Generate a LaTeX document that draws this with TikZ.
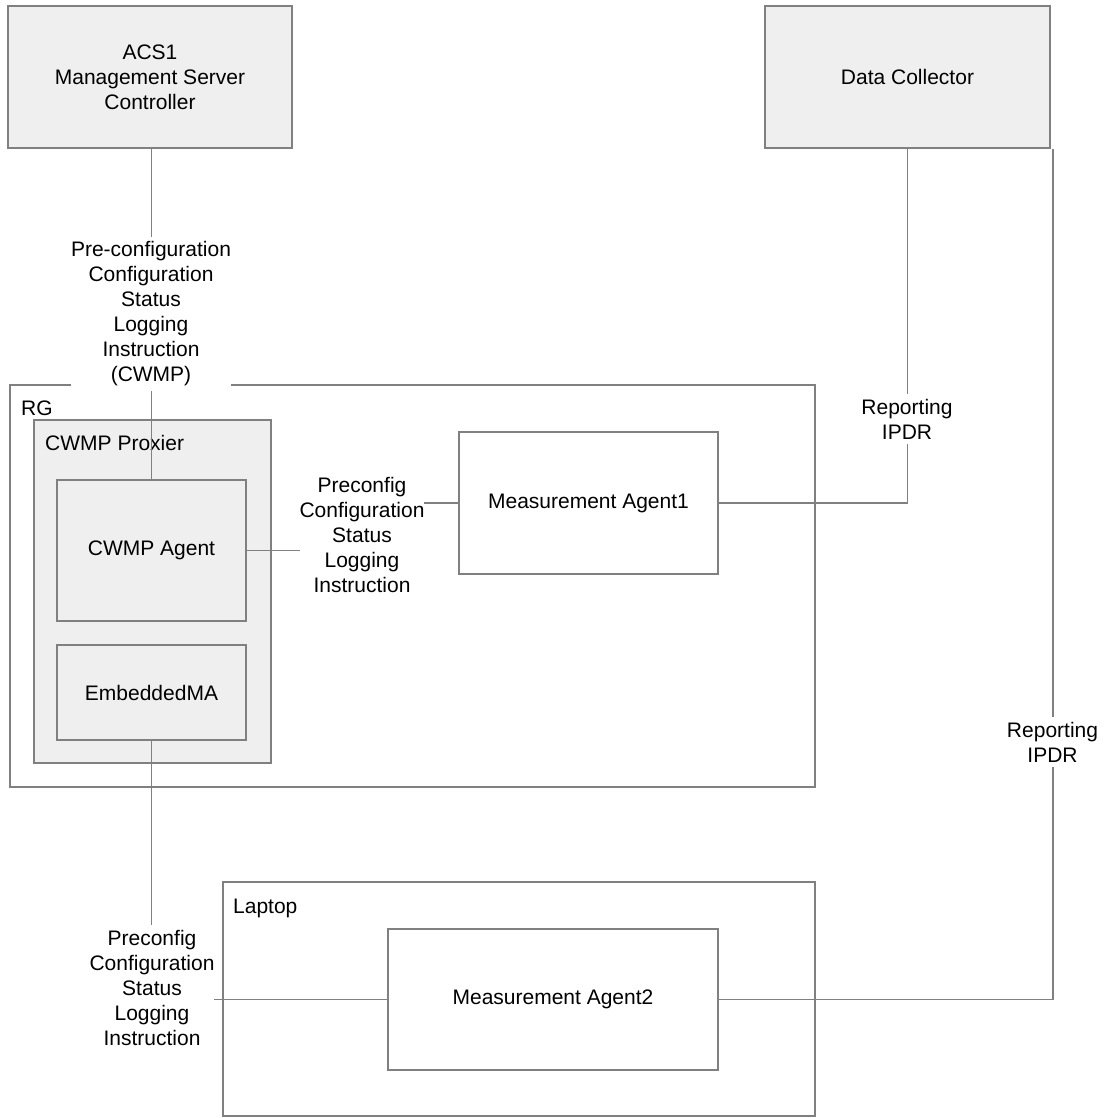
\documentclass[tikz,border=0pt]{standalone}
\usepackage{fontspec}
\setmainfont{Liberation Sans}
\usepackage{xcolor}
\definecolor{linegray}{RGB}{128,128,128}
\definecolor{boxgray}{RGB}{239,239,239}

\newcommand{\diagfont}{\fontsize{21}{25}\selectfont}

\tikzset{
  graybox/.style={draw=linegray, line width=1.2pt, fill=boxgray, inner sep=0pt, align=center, font=\diagfont},
  whitebox/.style={draw=linegray, line width=1.2pt, fill=white, inner sep=0pt, align=center, font=\diagfont},
  boxtitle/.style={anchor=base west, inner sep=0pt, font=\diagfont},
  link/.style={draw=linegray, line width=1.2pt},
  msg/.style={fill=white, align=center, inner xsep=0pt, inner ysep=5pt, font=\diagfont}
}

\begin{document}
\begin{tikzpicture}[x=1pt, y=-1pt]

\useasboundingbox (0,0) rectangle (1104,1118);

% Outer boxes
\node[whitebox, minimum width=805pt, minimum height=402pt] (rg) at (412.5,586) {};
\node[boxtitle] (rglab) at (21,415) {RG};
\node[graybox, minimum width=237pt, minimum height=343pt] (proxier) at (152.5,591.5) {};
\node[boxtitle] (proxierlab) at (45,450) {CWMP Proxier};
\node[whitebox, minimum width=592pt, minimum height=234pt] (laptop) at (519,999) {};
\node[boxtitle] (laptoplab) at (233,913) {Laptop};

% Agents
\node[graybox, minimum width=189pt, minimum height=141pt] (agent) at (151.5,550.5) {CWMP Agent};
\node[graybox, minimum width=189pt, minimum height=95pt] (emb) at (151.5,692.5) {EmbeddedMA};
\node[whitebox, minimum width=259pt, minimum height=142pt] (ma1) at (588.5,503) {Measurement Agent1};
\node[whitebox, minimum width=330pt, minimum height=141pt] (ma2) at (553,999.5) {Measurement Agent2};

% Servers
\node[graybox, minimum width=284pt, minimum height=142pt] (acs) at (150,77) {ACS1\\Management Server\\Controller};
\node[graybox, minimum width=285pt, minimum height=142pt] (dc) at (907.5,77) {Data Collector};
\coordinate (dcout) at (1053,149);
\coordinate (elbow) at (362,535);

% Connectors
\draw[link] (acs.south -| agent.north) -- (agent.north);
\draw[link] (agent.east) -| (elbow) |- (ma1.west);
\draw[link] (dc.south) |- (ma1.east);
\draw[link] (dcout) |- (ma2.east);
\draw[link] (emb.south) |- (ma2.west);

% Messages
\node[msg] (cwmpmsg) at (151,314) {Pre-configuration\\Configuration\\Status\\Logging\\Instruction\\(CWMP)};
\node[msg] (cfgmsg) at (elbow) {Preconfig\\Configuration\\Status\\Logging\\Instruction};
\node[msg] (rep1) at (907,419) {Reporting\\IPDR};
\node[msg] (rep2) at (1052.5,742) {Reporting\\IPDR};
\node[msg] (cfgmsg2) at (152,988) {Preconfig\\Configuration\\Status\\Logging\\Instruction};

\end{tikzpicture}
\end{document}
